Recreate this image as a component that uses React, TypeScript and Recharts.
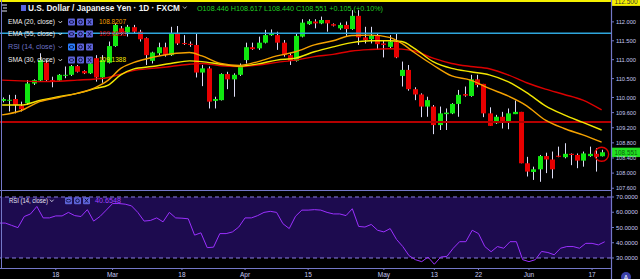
import React from "react";
import {
  ComposedChart,
  Bar,
  Line,
  XAxis,
  YAxis,
  ReferenceLine,
  ReferenceArea,
  ReferenceDot,
} from "recharts";

// ---------- DATA ----------
const dates = [
  "02-05","02-06","02-07","02-08","02-11","02-12","02-13","02-14","02-15",
  "02-18","02-19","02-20","02-21","02-22","02-25","02-26","02-27","02-28","03-01",
  "03-04","03-05","03-06","03-07","03-08","03-11","03-12","03-13","03-14","03-15",
  "03-18","03-19","03-20","03-21","03-22","03-25","03-26","03-27","03-28","03-29",
  "04-01","04-02","04-03","04-04","04-05","04-08","04-09","04-10","04-11","04-12",
  "04-15","04-16","04-17","04-18","04-19","04-22","04-23","04-24","04-25","04-26",
  "04-29","04-30","05-01","05-02","05-03",
  "05-06","05-07","05-08","05-09","05-10","05-13","05-14","05-15","05-16","05-17",
  "05-20","05-21","05-22","05-23","05-24","05-27","05-28","05-29","05-30","05-31",
  "06-03","06-04","06-05","06-06","06-07","06-10","06-11","06-12","06-13","06-14",
  "06-17","06-18","06-19","06-20",
];

const opens = [
  109.91,109.92,109.96,109.78,109.85,110.37,110.45,110.92,110.46,
  110.45,110.58,110.60,110.83,110.70,110.64,111.04,110.53,110.92,111.36,
  111.83,111.72,111.86,111.74,111.57,110.97,111.17,111.33,111.12,111.70,
  111.44,111.42,111.39,110.66,110.77,109.91,109.93,110.62,110.48,110.60,
  110.99,111.33,111.30,111.45,111.65,111.65,111.45,111.12,110.97,111.61,
  111.94,112.01,111.96,112.05,111.94,111.83,111.92,111.81,112.16,111.59,
  111.54,111.63,111.43,111.34,111.48,
  110.57,110.73,110.22,110.08,109.76,109.76,109.27,109.56,109.58,109.83,
  110.09,110.04,110.48,110.36,109.58,109.32,109.49,109.36,109.56,109.62,
  108.26,108.03,108.10,108.45,108.36,108.46,108.42,108.51,108.48,108.33,
  108.45,108.51,108.446,
];
const highs = [
  110.00,110.07,110.07,109.89,110.46,110.48,111.17,110.99,110.55,
  110.62,110.82,110.86,110.86,110.72,111.04,111.12,111.12,111.48,111.96,
  111.89,111.92,111.92,111.79,111.59,111.21,111.45,111.45,111.87,111.89,
  111.65,111.48,111.70,110.86,110.82,110.02,110.64,110.68,110.64,110.90,
  111.45,111.45,111.61,111.79,111.80,111.74,111.52,111.17,111.70,112.07,
  112.07,112.07,112.14,112.05,111.96,111.98,112.01,112.31,112.31,111.87,
  111.87,111.70,111.52,111.65,111.70,
  110.95,110.86,110.27,110.11,110.02,109.80,109.76,109.71,109.85,110.20,
  110.29,110.60,110.60,110.36,109.74,109.54,109.62,109.71,109.92,109.62,
  108.43,108.17,108.48,108.54,108.57,108.70,108.79,108.52,108.52,108.57,
  108.70,108.66,108.617,
];
const lows = [
  109.87,109.63,109.58,109.63,109.80,110.33,110.42,110.42,110.27,
  110.44,110.51,110.57,110.66,110.62,110.62,110.42,110.39,110.90,111.34,
  111.65,111.61,111.70,111.48,110.86,110.90,111.12,111.08,111.10,111.39,
  111.39,111.34,110.53,110.30,109.71,109.71,109.92,110.22,110.02,110.57,
  110.90,111.26,111.26,111.43,111.63,111.26,111.08,110.86,110.95,111.59,
  111.92,111.83,111.94,111.74,111.88,111.79,111.63,111.79,111.39,111.43,
  111.43,111.26,111.06,111.30,111.04,
  110.29,110.18,109.93,109.48,109.49,109.03,109.14,109.14,109.56,109.49,
  110.02,110.02,110.27,109.48,109.25,109.30,109.18,109.16,109.56,108.26,
  107.91,107.82,107.77,108.00,107.86,108.42,108.39,108.21,108.13,108.17,
  108.43,108.04,108.44,
];
const closes = [
  109.96,109.94,109.80,109.69,110.37,110.46,110.99,110.46,110.44,
  110.60,110.60,110.83,110.68,110.64,110.90,110.53,110.99,111.36,111.92,
  111.72,111.87,111.74,111.54,111.12,111.19,111.33,111.12,111.70,111.43,
  111.42,111.39,110.66,110.77,109.89,109.96,110.62,110.48,110.60,110.83,
  111.33,111.28,111.45,111.65,111.70,111.45,111.12,110.97,111.63,111.98,
  112.02,111.96,112.05,111.96,111.90,111.92,111.81,112.16,111.59,111.52,
  111.63,111.41,111.39,111.48,111.06,
  110.73,110.22,110.08,109.76,109.93,109.27,109.58,109.60,109.83,110.07,
  110.05,110.48,110.33,109.58,109.25,109.49,109.36,109.58,109.62,108.26,
  108.04,108.10,108.45,108.36,108.10,108.43,108.51,108.48,108.33,108.52,
  108.51,108.43,108.551,
];
const rsiValues = [
  52.9,52.9,51.4,49.9,57.2,58.9,63.8,56.3,56.3,
  57.6,57.6,59.9,57.8,57.2,61.7,54.2,57.2,61.4,65.7,
  65.7,65.3,64.2,59.9,54.2,54.6,56.3,53.7,59.9,56.3,
  56.1,55.7,45.0,46.5,36.8,37.1,46.0,46.0,47.1,50.3,
  56.3,56.3,57.8,59.9,60.6,59.9,52.5,49.3,57.4,61.4,
  61.4,61.7,61.4,59.9,58.9,58.9,57.8,62.3,50.7,50.3,
  52.0,48.2,47.1,49.3,42.2,37.5,31.5,28.9,27.6,30.6,
  25.9,30.6,31.1,36.4,40.7,40.7,48.2,46.0,37.5,34.1,
  37.5,36.4,40.7,40.7,28.9,27.6,28.9,34.3,33.6,32.1,
  36.4,37.5,37.5,36.4,39.6,39.6,38.6,40.65,
];

// moving-average lines read at sample days
const lineSampleDates = [
  "02-05","02-08","02-13","02-18","02-21","02-26","02-28","03-04","03-06","03-11",
  "03-14","03-19","03-21","03-26","03-29","04-03","04-08","04-11","04-16","04-19",
  "04-24","04-29","05-02","05-06","05-08","05-13","05-16","05-21","05-24","05-29",
  "06-03","06-06","06-11","06-14","06-19",
];
const ema20Values = [
  109.54,109.65,109.89,110.00,110.11,110.27,110.46,110.77,110.92,111.06,
  111.15,111.19,111.10,110.90,110.85,110.95,111.10,111.21,111.39,111.50,
  111.64,111.65,111.59,111.43,111.19,110.86,110.57,110.46,110.24,110.04,
  109.78,109.40,109.18,109.01,108.82,
];
const ema55Values = [
  110.46,110.44,110.42,110.43,110.46,110.49,110.53,110.62,110.71,110.77,
  110.82,110.88,110.90,110.84,110.82,110.86,110.93,110.99,111.08,111.14,
  111.23,111.27,111.29,111.28,111.23,111.04,110.90,110.82,110.76,110.60,
  110.39,110.22,110.08,109.93,109.67,
];
const sma30Values = [
  109.80,109.80,109.92,110.02,110.11,110.24,110.33,110.60,110.75,110.82,
  110.90,110.97,110.95,110.88,110.83,110.89,110.99,111.04,111.21,111.34,
  111.45,111.50,111.50,111.48,111.30,110.95,110.77,110.68,110.60,110.42,
  110.13,109.78,109.54,109.34,109.14,
];

const priceTicks = [107.6, 108, 108.4, 108.8, 109.2, 109.6, 110, 110.5, 111, 111.5, 112];
const rsiTicks = [30, 40, 50, 60, 70];
const xTickDates = ["02-18","03-01","03-18","04-01","04-15","05-01","05-13","05-22","06-03","06-17"];
const xTickLabels = ["18","Mar","18","Apr","15","May","13","22","Jun","17"];

const blueLevel = 111.7;
const redLevel = 109.35;
const yellowLevel = 112.55;
const topLabel = "112.500";

const legendRows = [
  { name: "EMA (20, close)", value: "108.8207", color: "#f5a200" },
  { name: "EMA (55, close)", value: "109.6658", color: "#e00000" },
  { name: "RSI (14, close)", value: "", color: "" },
  { name: "SMA (30, close)", value: "109.1388", color: "#f2e600" },
];
const titleText = "U.S. Dollar / Japanese Yen · 1D · FXCM";
const ohlcText = "O108.446  H108.617  L108.440  C108.551  +0.105 (+0.10%)";
const rsiLegendValue = "40.6548";

// ---------- STYLE ----------
const FONT = "'Liberation Sans', Arial, sans-serif";
const AX = "#7478c8";
const AXTXT = "#c6c9f0";
const GREEN = "#10e810";
const RED = "#e80000";
const WICK = "#dcdcf5";

const rows = dates.map((date, i) => {
  const s = lineSampleDates.indexOf(date);
  return {
    date,
    open: opens[i] ?? null,
    high: highs[i] ?? null,
    low: lows[i] ?? null,
    close: closes[i] ?? null,
    ema20: s >= 0 ? ema20Values[s] : null,
    ema55: s >= 0 ? ema55Values[s] : null,
    sma30: s >= 0 ? sma30Values[s] : null,
    rsi: rsiValues[i] ?? null,
  };
});

const lastIdx = closes.length - 1;
const lastDate = dates[lastIdx];
const lastClose = closes[lastIdx];
const lastMid = (opens[lastIdx] + closes[lastIdx]) / 2;

const Candle = (props: any) => {
  const { x, y, width, height, payload } = props;
  if (!payload || payload.open == null) return null;
  const { open, close, high, low } = payload;
  const top = Math.min(y, y + height);
  const h = Math.abs(height);
  const ppu = h / (high - low || 1);
  const cx = Math.round(x + width / 2) + 0.5;
  const bTop = top + (high - Math.max(open, close)) * ppu;
  const bH = Math.max(1, Math.abs(open - close) * ppu);
  const color = close >= open ? GREEN : RED;
  return (
    <g>
      <line x1={cx} x2={cx} y1={top} y2={top + h} stroke={WICK} strokeWidth={1} />
      <rect x={cx - 2.5} y={bTop} width={5} height={bH} fill={color} />
    </g>
  );
};

const NoDot = () => <g />;

const PriceTick = (props: any) => {
  const { x, y, payload } = props;
  return (
    <text x={x} y={y + 2.2} fontSize={6} fill={AXTXT} fontFamily={FONT} textLength={20} lengthAdjust="spacingAndGlyphs">
      {Number(payload.value).toFixed(3)}
    </text>
  );
};

const RsiTick = (props: any) => {
  const { x, y, payload } = props;
  return (
    <text x={x} y={y + 2.2} fontSize={6} fill={AXTXT} fontFamily={FONT} textLength={22} lengthAdjust="spacingAndGlyphs">
      {Number(payload.value).toFixed(4)}
    </text>
  );
};

const DateTick = (props: any) => {
  const { x, y, payload } = props;
  const i = xTickDates.indexOf(payload.value);
  if (i < 0) return null;
  return (
    <text x={x} y={y + 6.5} fontSize={6.5} fill={AXTXT} fontFamily={FONT} textAnchor="middle">
      {xTickLabels[i]}
    </text>
  );
};

const makeTag = (text: string, fill: string, color: string) => (props: any) => {
  const vb = props.viewBox;
  if (!vb) return null;
  const left = vb.x + vb.width + 1;
  return (
    <g>
      <rect x={left} y={vb.y - 4.6} width={29} height={9.4} fill={fill} />
      <text x={left + 2.5} y={vb.y + 2.4} fontSize={6.5} fill={color} fontFamily={FONT} textLength={23} lengthAdjust="spacingAndGlyphs">
        {text}
      </text>
    </g>
  );
};

const Icons = ({ x, cy, first }: { x: number; cy: number; first?: string }) => (
  <g>
    {[0, 1, 2].map((j) => (
      <rect key={j} x={x + j * 9} y={cy - 3.5} width={7} height={7} rx={1} fill={j === 0 && first ? first : "#5d63d8"} />
    ))}
    <ellipse cx={x + 3.5} cy={cy} rx={2.3} ry={1.4} fill="none" stroke="#0b0b35" strokeWidth={0.8} />
    <circle cx={x + 12.5} cy={cy} r={1.8} fill="none" stroke="#0b0b35" strokeWidth={0.9} />
    <line x1={x + 19.8} y1={cy - 2} x2={x + 23.2} y2={cy + 2} stroke="#0b0b35" strokeWidth={0.9} />
    <line x1={x + 23.2} y1={cy - 2} x2={x + 19.8} y2={cy + 2} stroke="#0b0b35" strokeWidth={0.9} />
  </g>
);

const Chevron = ({ x, cy, color }: { x: number; cy: number; color: string }) => (
  <polyline points={`${x},${cy - 1} ${x + 1.8},${cy + 1} ${x + 3.6},${cy - 1}`} fill="none" stroke={color} strokeWidth={0.8} />
);

export default function App() {
  return (
    <div style={{ position: "absolute", left: 0, top: 0, width: 640, height: 279, overflow: "hidden", background: "#000" }}>
      <div style={{ position: "absolute", left: -1, top: 0 }}>
        <ComposedChart width={641} height={190} data={rows} margin={{ top: 0, right: 0, bottom: 0, left: 0 }}>
          <XAxis dataKey="date" type="category" hide />
          <YAxis
            yAxisId="p"
            orientation="right"
            width={29}
            type="number"
            domain={[107.553, 112.579]}
            allowDataOverflow
            ticks={priceTicks}
            interval={0}
            axisLine={false}
            tickLine={{ stroke: AX }}
            tickSize={3}
            tickMargin={2}
            tick={<PriceTick />}
          />
          <ReferenceLine yAxisId="p" y={redLevel} stroke="#b40000" strokeWidth={2} />
          <ReferenceLine yAxisId="p" y={blueLevel} stroke="#2ea6dc" strokeWidth={1.3} />
          <Bar yAxisId="p" dataKey={(d: any) => (d.open == null ? null : [d.low, d.high])} barSize={5} shape={<Candle />} isAnimationActive={false} />
          <Line yAxisId="p" type="monotone" dataKey="ema55" stroke="#dc0000" strokeWidth={1.4} dot={<NoDot />} activeDot={false} connectNulls isAnimationActive={false} />
          <Line yAxisId="p" type="monotone" dataKey="sma30" stroke="#f2e600" strokeWidth={1.4} dot={<NoDot />} activeDot={false} connectNulls isAnimationActive={false} />
          <Line yAxisId="p" type="monotone" dataKey="ema20" stroke="#f5a200" strokeWidth={1.4} dot={<NoDot />} activeDot={false} connectNulls isAnimationActive={false} />
          <ReferenceLine yAxisId="p" y={yellowLevel} stroke="#f5f000" strokeWidth={2} label={makeTag(topLabel, "#f5f000", "#333")} />
          <ReferenceLine yAxisId="p" y={lastClose} stroke="none" strokeOpacity={0} label={makeTag(lastClose.toFixed(3), "#22e022", "#0d5d0d")} />
          <ReferenceDot yAxisId="p" x={lastDate} y={lastMid} r={7} fill="none" stroke="#e00000" strokeWidth={1.4} />
        </ComposedChart>
      </div>
      <div style={{ position: "absolute", left: -1, top: 190 }}>
        <ComposedChart width={641} height={89} data={rows} margin={{ top: 0, right: 0, bottom: 0, left: 0 }}>
          <XAxis
            dataKey="date"
            type="category"
            height={11}
            ticks={xTickDates}
            interval={0}
            axisLine={false}
            tickLine={{ stroke: AX }}
            tickSize={2}
            tickMargin={0}
            tick={<DateTick />}
          />
          <YAxis
            yAxisId="r"
            orientation="right"
            width={29}
            type="number"
            domain={[23.44, 74.59]}
            allowDataOverflow
            ticks={rsiTicks}
            interval={0}
            axisLine={false}
            tickLine={{ stroke: AX }}
            tickSize={3}
            tickMargin={2}
            tick={<RsiTick />}
          />
          <ReferenceArea yAxisId="r" y1={30} y2={70} fill="#1d0b4f" fillOpacity={1} stroke="none" />
          <ReferenceLine yAxisId="r" y={70} stroke="#8b7fe0" strokeDasharray="4 3" strokeWidth={1} />
          <ReferenceLine yAxisId="r" y={30} stroke="#8b7fe0" strokeDasharray="4 3" strokeWidth={1} />
          <Line yAxisId="r" type="linear" dataKey="rsi" stroke="#9b30ff" strokeWidth={1} dot={<NoDot />} activeDot={false} isAnimationActive={false} />
        </ComposedChart>
      </div>
      <svg width={640} height={279} style={{ position: "absolute", left: 0, top: 0, pointerEvents: "none" }}>
        <line x1={1.5} y1={0} x2={1.5} y2={268} stroke={AX} strokeWidth={1} />
        <line x1={0} y1={190.5} x2={611} y2={190.5} stroke={AX} strokeWidth={1.2} />
        <line x1={0} y1={268.5} x2={611} y2={268.5} stroke={AX} strokeWidth={1.2} />
        <line x1={611.5} y1={0} x2={611.5} y2={279} stroke={AX} strokeWidth={1.2} />
        {/* header */}
        <line x1={2} y1={5} x2={7} y2={5} stroke="#e0e0f0" strokeWidth={1} />
        <line x1={3} y1={8} x2={7} y2={8} stroke="#e0e0f0" strokeWidth={1} />
        <line x1={2} y1={11} x2={7} y2={11} stroke="#e0e0f0" strokeWidth={1} />
        <rect x={21} y={5} width={5} height={6} fill="#5a64e0" />
        <text x={28} y={11} fontSize={8.5} fontWeight="bold" fill="#f2f2f2" fontFamily={FONT} textLength={152} lengthAdjust="spacingAndGlyphs">
          {titleText}
        </text>
        <Chevron x={183} cy={7.5} color="#e0e0e0" />
        <text x={197} y={10.5} fontSize={7} fill="#22d022" fontFamily={FONT} textLength={186} lengthAdjust="spacingAndGlyphs">
          {ohlcText}
        </text>
        {legendRows.map((r, i) => {
          const cy = [22, 34, 47, 60][i];
          const isRsi = r.value === "";
          const txt = isRsi ? "#6f73c8" : "#eeeeee";
          return (
            <g key={r.name}>
              <text x={8} y={cy + 2.4} fontSize={7} fill={txt} fontFamily={FONT} textLength={47} lengthAdjust="spacingAndGlyphs">
                {r.name}
              </text>
              <Chevron x={58.5} cy={cy} color={txt} />
              <Icons x={68} cy={cy} first={isRsi ? "#2a7fff" : undefined} />
              {r.value && (
                <text x={99} y={cy + 2.4} fontSize={7} fill={r.color} fontFamily={FONT} textLength={27} lengthAdjust="spacingAndGlyphs">
                  {r.value}
                </text>
              )}
            </g>
          );
        })}
        {/* RSI legend */}
        <text x={9} y={203} fontSize={7} fill="#e6e6f4" fontFamily={FONT} textLength={39} lengthAdjust="spacingAndGlyphs">
          RSI (14, close)
        </text>
        <Chevron x={50} cy={200.7} color="#e6e6f4" />
        <Icons x={65} cy={200.7} />
        <text x={95} y={203} fontSize={7} fill="#a040ff" fontFamily={FONT} textLength={26} lengthAdjust="spacingAndGlyphs">
          {rsiLegendValue}
        </text>
        <circle cx={626} cy={277} r={5} fill="#3a40a8" />
        <text x={626} y={279.5} fontSize={6.5} fill="#ffffff" fontFamily={FONT} textAnchor="middle">
          A
        </text>
      </svg>
    </div>
  );
}
